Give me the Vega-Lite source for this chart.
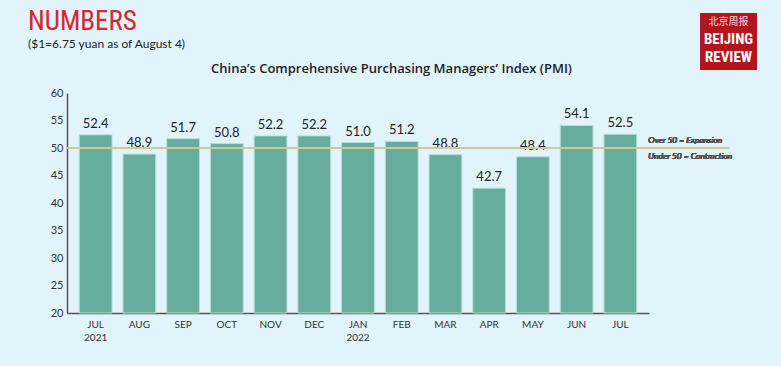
{
  "$schema": "https://vega.github.io/schema/vega-lite/v6.json",
  "padding": {"left": 28, "top": 8, "right": 24, "bottom": 25},
  "background": "#e2f4fb",
  "config": {
    "view": {"stroke": null},
    "axisY": {
      "title": null, "ticks": false, "grid": false,
      "domainColor": "#555555", "domainWidth": 1.5,
      "labelFont": "Lato", "labelFontSize": 11, "labelColor": "#333333", "labelPadding": 4
    }
  },
  "spacing": 0,
  "bounds": "flush",
  "hconcat": [
    {
      "width": 633,
      "height": 300,
      "title": {
        "text": "NUMBERS",
        "subtitle": "($1=6.75 yuan as of August 4)",
        "anchor": "start",
        "frame": "group",
        "dx": -39,
        "font": "Roboto Condensed, DejaVu Sans Condensed, Roboto",
        "fontSize": 27,
        "fontWeight": "normal",
        "color": "#d7262d",
        "subtitleFont": "Lato",
        "subtitleFontSize": 12,
        "subtitleColor": "#222222",
        "subtitlePadding": 3,
        "offset": -38
      },
      "data": {
        "values": [
          {"period": "JUL 2021", "pmi": 52.4},
          {"period": "AUG 2021", "pmi": 48.9},
          {"period": "SEP 2021", "pmi": 51.7},
          {"period": "OCT 2021", "pmi": 50.8},
          {"period": "NOV 2021", "pmi": 52.2},
          {"period": "DEC 2021", "pmi": 52.2},
          {"period": "JAN 2022", "pmi": 51.0},
          {"period": "FEB 2022", "pmi": 51.2},
          {"period": "MAR 2022", "pmi": 48.8},
          {"period": "APR 2022", "pmi": 42.7},
          {"period": "MAY 2022", "pmi": 48.4},
          {"period": "JUN 2022", "pmi": 54.1},
          {"period": "JUL 2022", "pmi": 52.5}
        ]
      },
      "layer": [
        {
          "mark": {"type": "bar", "color": "#67ad9f", "stroke": "#b8ded5", "strokeWidth": 1},
          "encoding": {
            "x": {
              "field": "period", "type": "ordinal", "sort": null,
              "scale": {"range": [0, 582], "paddingInner": 0.25, "paddingOuter": 0.28},
              "axis": {
                "orient": "bottom", "title": null, "ticks": false,
                "domainColor": "#555555", "domainWidth": 1.5,
                "labelAngle": 0, "labelFont": "Lato", "labelFontSize": 10, "labelColor": "#333333",
                "labelPadding": 6, "labelLineHeight": 13,
                "labelExpr": "(datum.label == 'JUL 2021' || datum.label == 'JAN 2022') ? split(datum.label, ' ') : split(datum.label, ' ')[0]"
              }
            },
            "y": {
              "field": "pmi", "type": "quantitative",
              "scale": {"domain": [20, 60], "range": [300, 80], "nice": false, "zero": false},
              "axis": {"title": null, "values": [20, 25, 30, 35, 40, 45, 50, 55, 60]}
            },
            "y2": {"datum": 20}
          }
        },
        {
          "mark": {"type": "text", "baseline": "alphabetic", "dy": -7, "font": "Lato", "fontSize": 13, "color": "#222222"},
          "encoding": {
            "x": {
              "field": "period", "type": "ordinal", "sort": null,
              "axis": {
                "orient": "top", "labels": false, "ticks": false, "domain": false,
                "title": "China’s Comprehensive Purchasing Managers’ Index (PMI)",
                "titleFont": "Open Sans", "titleFontSize": 13, "titleFontWeight": 600, "titleColor": "#222222",
                "titleX": 324, "titleY": 59, "titleBaseline": "alphabetic"
              }
            },
            "y": {
              "field": "pmi", "type": "quantitative",
              "axis": {"title": null, "values": [20, 25, 30, 35, 40, 45, 50, 55, 60]}
            },
            "text": {"field": "pmi", "type": "quantitative", "format": ".1f"}
          }
        },
        {
          "mark": {"type": "rule", "color": "#d6c597", "strokeWidth": 1.5, "x": 0, "x2": 663},
          "encoding": {"y": {"datum": 50, "axis": {"title": null, "values": [20, 25, 30, 35, 40, 45, 50, 55, 60]}}}
        },
        {
          "mark": {"type": "text", "text": "Over 50 = Expansion", "align": "left", "baseline": "middle", "dx": 28, "dy": -8, "font": "Lato", "fontSize": 8.5, "fontStyle": "italic", "color": "#555555"},
          "encoding": {"x": {"datum": "JUL 2022", "axis": null}, "y": {"datum": 50, "axis": {"title": null, "values": [20, 25, 30, 35, 40, 45, 50, 55, 60]}}}
        },
        {
          "mark": {"type": "text", "text": "Under 50 = Contraction", "align": "left", "baseline": "middle", "dx": 28, "dy": 8, "font": "Lato", "fontSize": 8.5, "fontStyle": "italic", "color": "#555555"},
          "encoding": {"x": {"datum": "JUL 2022", "axis": null}, "y": {"datum": 50, "axis": {"title": null, "values": [20, 25, 30, 35, 40, 45, 50, 55, 60]}}}
        }
      ],
      "resolve": {"axis": {"x": "independent"}}
    },
    {
      "width": 57,
      "height": 57,
      "view": {"fill": "#b5141c", "stroke": null},
      "data": {"values": [{"logo": "Beijing Review"}]},
      "layer": [
        {
          "mark": {"type": "text", "text": "北京周报", "font": "Noto Sans CJK SC", "fontSize": 10, "color": "#f3dada", "dy": -20, "baseline": "middle"},
          "encoding": {}
        },
        {
          "mark": {"type": "text", "text": "BEIJING", "font": "Roboto Condensed, DejaVu Sans Condensed, Roboto", "fontSize": 15, "fontWeight": "bold", "color": "#ffffff", "dy": -3, "baseline": "middle"},
          "encoding": {}
        },
        {
          "mark": {"type": "text", "text": "REVIEW", "font": "Roboto Condensed, DejaVu Sans Condensed, Roboto", "fontSize": 15, "fontWeight": "bold", "color": "#ffffff", "dy": 15, "baseline": "middle"},
          "encoding": {}
        }
      ]
    }
  ]
}
